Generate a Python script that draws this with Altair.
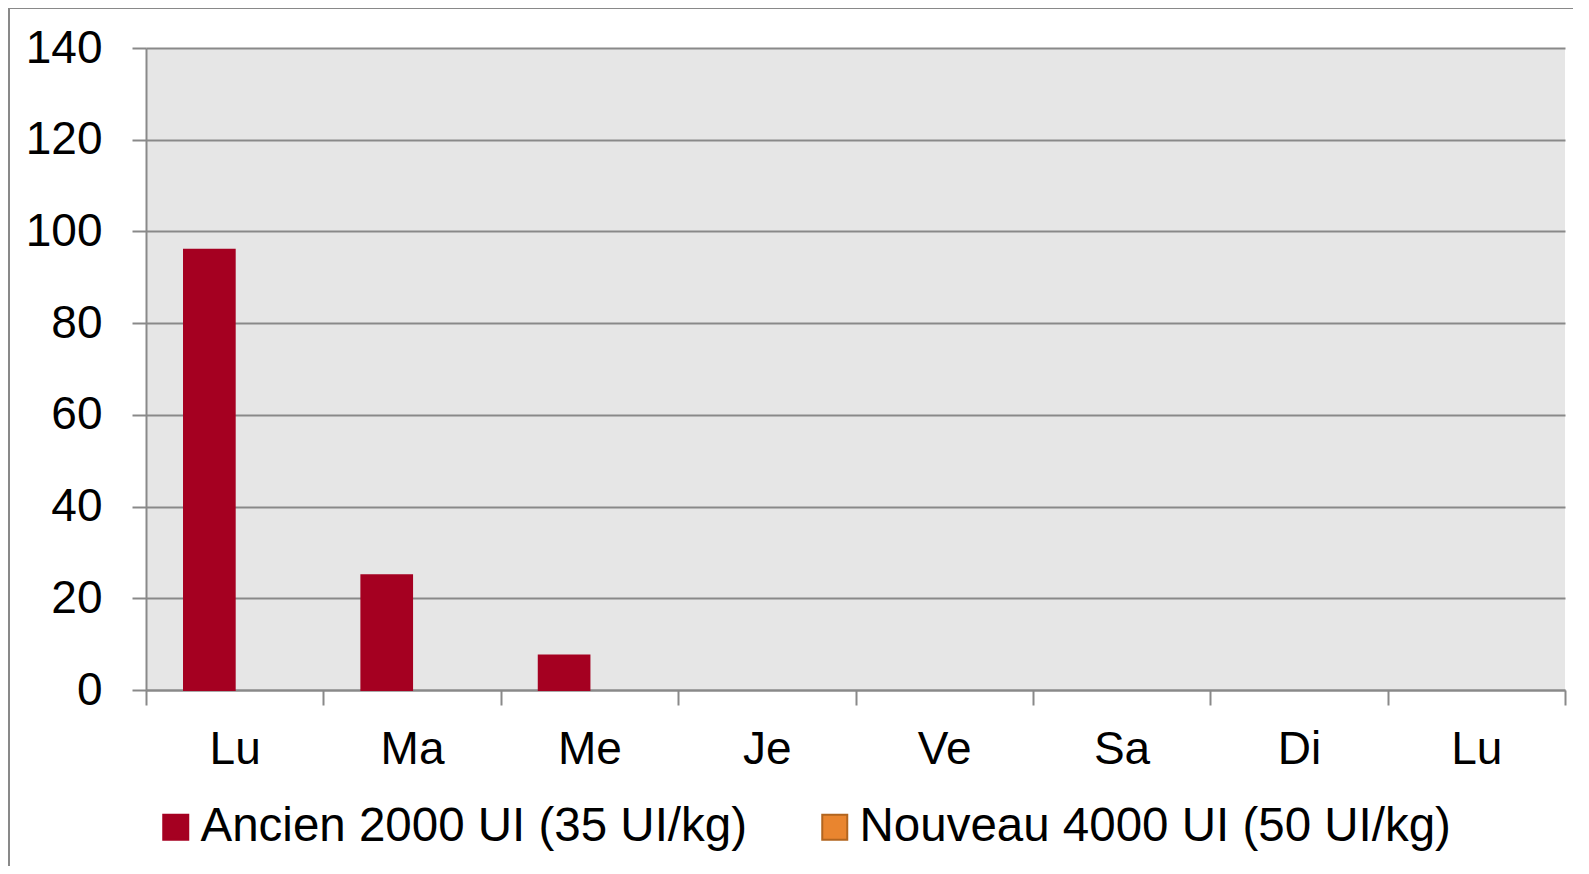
import json
import altair as alt
import pandas as pd

# ---- data ----
days = ["Lu", "Ma", "Me", "Je", "Ve", "Sa", "Di", "Lu"]
series = ["Ancien 2000 UI (35 UI/kg)", "Nouveau 4000 UI (50 UI/kg)"]
ancien = [96, 25, 7.5, None, None, None, None, None]
nouveau = [None, None, None, None, None, None, None, None]
y_ticks = [0, 20, 40, 60, 80, 100, 120, 140]

rows = []
for i, d in enumerate(days):
    rows.append({"pos": i, "day": d, "series": series[0], "value": ancien[i]})
    rows.append({"pos": i, "day": d, "series": series[1], "value": nouveau[i]})
df = pd.DataFrame(rows)

FONT = "Liberation Sans"
GRID = "#898989"
W, H = 1419, 642

label_expr = json.dumps(days) + "[datum.value]"

legend_opts = dict(
    title=None,
    orient="none",
    direction="horizontal",
    legendX=6,
    legendY=755,
    symbolType="square",
    symbolSize=625,
    symbolStrokeWidth=2,
    symbolOpacity=1,
    labelFont=FONT,
    labelFontSize=47.5,
    labelColor="black",
    labelOffset=1,
    labelLimit=0,
    columnPadding=63,
    padding=0,
)

bars = alt.Chart(df).mark_bar(strokeWidth=2).encode(
    x=alt.X(
        "pos:O",
        scale=alt.Scale(domain=list(range(len(days))), paddingInner=0, paddingOuter=0),
        axis=alt.Axis(
            title=None,
            labelExpr=label_expr,
            labelAngle=0,
            labelFont=FONT,
            labelFontSize=46,
            labelColor="black",
            labelPadding=22,
            tickBand="extent",
            tickSize=15,
            tickWidth=2,
            tickColor=GRID,
            domainColor=GRID,
            domainWidth=2,
            grid=False,
        ),
    ),
    xOffset=alt.XOffset(
        "series:N",
        scale=alt.Scale(domain=series, paddingInner=0, paddingOuter=0.75),
    ),
    y=alt.Y(
        "value:Q",
        scale=alt.Scale(domain=[0, 140], nice=False),
        axis=alt.Axis(
            title=None,
            values=y_ticks,
            labelFont=FONT,
            labelFontSize=46,
            labelColor="black",
            labelPadding=30,
            tickSize=14,
            tickWidth=2,
            tickColor=GRID,
            domainColor=GRID,
            domainWidth=2,
            grid=True,
            gridColor=GRID,
            gridWidth=2,
            gridOpacity=1,
        ),
    ),
    color=alt.Color(
        "series:N",
        scale=alt.Scale(domain=series, range=["#A50021", "#E9852F"]),
        legend=alt.Legend(**legend_opts),
    ),
    stroke=alt.Stroke(
        "series:N",
        scale=alt.Scale(domain=series, range=["#A50021", "#B2651F"]),
        legend=alt.Legend(**legend_opts),
    ),
)

border = alt.Chart(pd.DataFrame({"k": [0]})).mark_rect(
    fill=None, fillOpacity=0, stroke=GRID, strokeWidth=2
).encode(
    x=alt.value(-137), x2=alt.value(W + 200),
    y=alt.value(-40), y2=alt.value(H + 400),
)

chart = alt.layer(border, bars).properties(
    width=W,
    height=H,
    padding={"left": 138, "top": 40, "right": 8, "bottom": 176},
    autosize=alt.AutoSizeParams(type="none"),
    background="white",
).configure_view(
    fill="#E6E6E6",
    stroke=None,
)

chart.save("out.html", embed_options={"renderer": "svg", "actions": False})
